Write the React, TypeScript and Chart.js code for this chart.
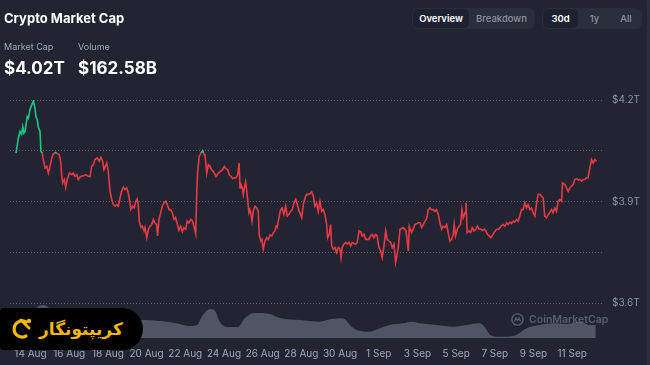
import React, { useEffect, useRef } from "react";
import { Chart, registerables } from "chart.js";

Chart.register(...registerables);

// ---- Data (days since 14 Aug 00:00, values in trillions USD) ----
const priceDays = [
  -0.75, -0.63, -0.54, -0.46, -0.4, -0.34, -0.28, -0.17, -0.11, -0.03,
  0.06, 0.15, 0.23, 0.28, 0.35, 0.4, 0.49, 0.54, 0.61, 0.66,
  0.75, 0.84, 0.92, 0.97, 1.1, 1.18, 1.3, 1.41, 1.49, 1.56,
  1.61, 1.66, 1.75, 1.82, 1.9, 2.01, 2.13, 2.21, 2.3, 2.39,
  2.47, 2.59, 2.73, 2.87, 2.99, 3.08, 3.16, 3.25, 3.33, 3.45,
  3.56, 3.64, 3.73, 3.8, 3.94, 4.02, 4.11, 4.2, 4.28, 4.37,
  4.46, 4.54, 4.63, 4.71, 4.8, 4.88, 4.97, 5.05, 5.14, 5.19,
  5.28, 5.36, 5.45, 5.52, 5.57, 5.62, 5.71, 5.78, 5.87, 5.92,
  6.01, 6.09, 6.18, 6.26, 6.35, 6.43, 6.52, 6.57, 6.64, 6.73,
  6.81, 6.9, 6.99, 7.07, 7.16, 7.25, 7.33, 7.42, 7.5, 7.59,
  7.67, 7.76, 7.85, 7.93, 8.02, 8.1, 8.19, 8.28, 8.36, 8.45,
  8.54, 8.59, 8.64, 8.72, 8.81, 8.9, 8.98,
  9.02, 9.11, 9.19, 9.28, 9.36, 9.45, 9.59, 9.71, 9.83, 9.93,
  10.02, 10.1, 10.19, 10.27, 10.36, 10.45, 10.53, 10.62, 10.71, 10.78,
  10.83, 10.88, 10.95, 11.0, 11.05, 11.12, 11.17, 11.23, 11.29, 11.34,
  11.4, 11.45, 11.51, 11.6, 11.69, 11.77, 11.82, 11.9, 11.96, 12.03,
  12.12, 12.21, 12.29, 12.38, 12.47, 12.55, 12.64, 12.69, 12.75, 12.84,
  12.93, 13.01, 13.1, 13.19, 13.27, 13.36, 13.45, 13.53, 13.62, 13.71,
  13.79, 13.88, 13.93, 14.02, 14.1, 14.19, 14.27, 14.36, 14.44, 14.53,
  14.62, 14.7, 14.79, 14.87, 14.96, 15.05, 15.13, 15.22, 15.31, 15.36,
  15.44, 15.51, 15.57, 15.65, 15.74, 15.82, 15.91, 16.0, 16.05, 16.11,
  16.2, 16.29, 16.37, 16.46, 16.55, 16.63, 16.72, 16.81, 16.89, 16.98,
  17.07, 17.15, 17.24, 17.32, 17.41, 17.49, 17.58, 17.66, 17.75, 17.84,
  17.92, 18.01, 18.1, 18.18, 18.27, 18.36, 18.44, 18.53, 18.62, 18.7,
  18.79, 18.87, 19.01, 19.1, 19.27, 19.41, 19.53, 19.58, 19.7, 19.78,
  19.87, 20.04, 20.13, 20.22, 20.3, 20.39, 20.48, 20.56, 20.65, 20.73,
  20.82, 20.9, 20.99, 21.08, 21.16, 21.25, 21.33, 21.42, 21.51, 21.59,
  21.68, 21.77, 21.85, 21.9, 21.97, 22.06, 22.15, 22.23, 22.3, 22.37,
  22.46, 22.51, 22.57, 22.66, 22.75, 22.83, 22.92, 23.02, 23.1, 23.19,
  23.28, 23.36, 23.45, 23.54, 23.62, 23.71, 23.79, 23.88, 23.96, 24.09,
  24.21, 24.31, 24.43, 24.52, 24.61, 24.69, 24.78, 24.86, 24.95, 25.03,
  25.12, 25.2, 25.29, 25.38, 25.46, 25.55, 25.64, 25.72, 25.81, 25.9,
  25.98, 26.07, 26.16, 26.24, 26.33, 26.41, 26.5, 26.58, 26.67, 26.76,
  26.84, 26.93, 27.01, 27.1, 27.19, 27.27, 27.36, 27.45, 27.5, 27.62,
  27.71, 27.79, 27.88, 27.96, 28.05, 28.13, 28.22, 28.31, 28.39, 28.48,
  28.56, 28.65, 28.74, 28.82, 28.91, 29.0, 29.08, 29.17, 29.26,
];

const priceValues = [
  4.043, 4.087, 4.107, 4.099, 4.121, 4.102, 4.107, 4.151, 4.146, 4.171,
  4.185, 4.197, 4.176, 4.151, 4.141, 4.121, 4.107, 4.048, 4.043, 4.024,
  3.999, 4.004, 3.984, 3.994, 4.029, 4.04, 4.045, 4.04, 4.038, 4.019,
  3.979, 3.955, 3.965, 3.942, 3.965, 3.984, 3.979, 3.984, 3.974, 3.979,
  3.965, 3.974, 3.976, 3.979, 3.974, 3.974, 4.004, 4.009, 4.024, 4.029,
  4.019, 4.03, 4.019, 3.994, 4.014, 3.989, 3.93, 3.906, 3.891, 3.886,
  3.891, 3.886, 3.911, 3.93, 3.942, 3.935, 3.94, 3.926, 3.896, 3.876,
  3.886, 3.881, 3.901, 3.908, 3.891, 3.842, 3.823, 3.827, 3.813, 3.823,
  3.793, 3.818, 3.827, 3.832, 3.847, 3.837, 3.832, 3.798, 3.847, 3.867,
  3.886, 3.896, 3.901, 3.891, 3.876, 3.876, 3.867, 3.847, 3.852, 3.832,
  3.815, 3.827, 3.811, 3.823, 3.818, 3.842, 3.837, 3.847, 3.844, 3.827,
  3.805, 3.921, 3.989, 4.033, 4.043, 4.05, 4.038,
  4.038, 3.984, 4.009, 4.004, 3.994, 3.989, 3.974, 3.984, 3.989, 3.994,
  4.004, 3.997, 3.994, 3.979, 3.974, 3.968, 3.97, 3.97, 3.979, 4.014,
  3.94, 3.95, 3.94, 3.921, 3.94, 3.958, 3.935, 3.901, 3.867, 3.876,
  3.862, 3.842, 3.871, 3.886, 3.881, 3.871, 3.803, 3.783, 3.788, 3.759,
  3.783, 3.793, 3.788, 3.801, 3.798, 3.808, 3.813, 3.827, 3.823, 3.852,
  3.876, 3.881, 3.862, 3.886, 3.857, 3.862, 3.871, 3.876, 3.896, 3.906,
  3.891, 3.871, 3.867, 3.852, 3.891, 3.911, 3.921, 3.921, 3.923, 3.929,
  3.916, 3.886, 3.896, 3.871, 3.901, 3.871, 3.876, 3.862, 3.832, 3.793,
  3.803, 3.832, 3.769, 3.759, 3.764, 3.749, 3.764, 3.759, 3.734, 3.764,
  3.774, 3.779, 3.774, 3.779, 3.769, 3.779, 3.776, 3.774, 3.779, 3.813,
  3.811, 3.798, 3.803, 3.788, 3.788, 3.788, 3.798, 3.803, 3.793, 3.803,
  3.798, 3.764, 3.754, 3.734, 3.769, 3.813, 3.788, 3.783, 3.779, 3.764,
  3.774, 3.72, 3.764, 3.818, 3.823, 3.813, 3.754, 3.827, 3.808, 3.818,
  3.832, 3.837, 3.837, 3.823, 3.832, 3.842, 3.849, 3.876, 3.881, 3.876,
  3.876, 3.871, 3.876, 3.862, 3.837, 3.818, 3.827, 3.823, 3.832, 3.808,
  3.783, 3.788, 3.803, 3.832, 3.798, 3.818, 3.827, 3.832, 3.876, 3.852,
  3.867, 3.896, 3.808, 3.813, 3.808, 3.823, 3.813, 3.818, 3.827, 3.818,
  3.818, 3.815, 3.818, 3.813, 3.803, 3.798, 3.793, 3.8, 3.808, 3.818,
  3.818, 3.827, 3.832, 3.827, 3.837, 3.832, 3.839, 3.835, 3.842, 3.839,
  3.847, 3.842, 3.857, 3.876, 3.876, 3.896, 3.881, 3.891, 3.876, 3.881,
  3.867, 3.857, 3.896, 3.921, 3.921, 3.916, 3.911, 3.857, 3.852, 3.862,
  3.867, 3.876, 3.867, 3.881, 3.871, 3.901, 3.906, 3.901, 3.955, 3.95,
  3.94, 3.93, 3.94, 3.945, 3.95, 3.965, 3.967, 3.963, 3.965, 3.96,
  3.965, 3.965, 3.97, 3.97, 3.999, 4.024, 4.014, 4.024, 4.019,
];

// Volume (billions USD)
const volumeDays = [
  -0.75, -0.03, 0.65, 1.27, 2.04, 3.59, 5.14, 5.81, 6.69, 7.47,
  8.24, 8.6, 8.91, 9.28, 9.54, 9.79, 10.2, 10.72, 11.08, 11.6,
  12.38, 12.89, 13.93, 14.96, 15.31, 15.99, 16.25, 16.6,
  16.86, 17.55, 18.06, 18.58, 19.25, 19.77, 20.13, 20.99, 21.85, 22.54,
  23.23, 23.58, 23.75, 24.26, 24.95, 25.3, 25.64, 26.33, 27.02, 27.71,
  28.4, 28.92, 29.22,
];
const volumeValues = [
  252, 328, 416, 328, 252, 227, 227, 227, 214, 189,
  151, 164, 290, 366, 340, 202, 139, 139, 252, 315,
  303, 252, 227, 205, 227, 248, 236, 142,
  101, 79, 122, 164, 185, 205, 185, 164, 142, 164,
  185, 101, 38, 16, 25, 67, 122, 164, 185, 176,
  205, 164, 164,
];

const xTickDays = [0, 2, 4, 6, 8, 10, 12, 14, 16, 18, 20, 22, 24, 26, 28];
const xTickLabels = [
  "14 Aug", "16 Aug", "18 Aug", "20 Aug", "22 Aug", "24 Aug", "26 Aug", "28 Aug",
  "30 Aug", "1 Sep", "3 Sep", "5 Sep", "7 Sep", "9 Sep", "11 Sep",
];
const yTickValues = [3.6, 3.75, 3.9, 4.05, 4.2];
const yTickLabels = ["$3.6T", "", "$3.9T", "", "$4.2T"];

const GREEN = "#16c784";
const RED = "#ea3943";
const BG = "#222531";

export default function App() {
  const canvasRef = useRef<HTMLCanvasElement | null>(null);

  useEffect(() => {
    document.body.style.margin = "0";
    document.body.style.background = BG;
    const canvas = canvasRef.current;
    if (!canvas) return;
    const baseline = priceValues[0];
    const chart = new Chart(canvas, {
      type: "line",
      data: {
        datasets: [
          {
            label: "Market Cap",
            data: priceDays.map((d, i) => ({ x: d, y: priceValues[i] })),
            yAxisID: "y",
            borderWidth: 1.6,
            pointRadius: 0,
            tension: 0,
            fill: false,
            order: 0,
            borderColor: (ctx: any) => {
              const c = ctx.chart;
              const area = c.chartArea;
              if (!area) return RED;
              const yPix = c.scales.y.getPixelForValue(baseline);
              const g = c.ctx.createLinearGradient(0, area.top, 0, area.bottom);
              const s = Math.min(1, Math.max(0, (yPix - area.top) / (area.bottom - area.top)));
              g.addColorStop(0, GREEN);
              g.addColorStop(s, GREEN);
              g.addColorStop(s, RED);
              g.addColorStop(1, RED);
              return g;
            },
          },
          {
            label: "Volume",
            data: volumeDays.map((d, i) => ({ x: d, y: volumeValues[i] })),
            yAxisID: "y2",
            borderWidth: 0,
            borderColor: "rgba(0,0,0,0)",
            backgroundColor: "#505465",
            fill: "origin",
            pointRadius: 0,
            cubicInterpolationMode: "monotone",
            order: 1,
          },
        ],
      },
      options: {
        animation: false,
        responsive: false,
        events: [],
        layout: { padding: { top: 100, left: 10, right: 0, bottom: 0 } },
        plugins: { legend: { display: false }, tooltip: { enabled: false } },
        scales: {
          x: {
            type: "linear",
            min: -1.06,
            max: 29.54,
            afterBuildTicks: (s: any) => {
              s.ticks = xTickDays.map((v) => ({ value: v }));
            },
            afterFit: (s: any) => {
              s.height = 27;
            },
            ticks: {
              autoSkip: false,
              maxRotation: 0,
              padding: 10,
              color: "#a1a7bb",
              font: { size: 10, family: "Inter" },
              callback: (_v: any, i: number) => xTickLabels[i],
            },
            grid: { display: false, drawTicks: false },
            border: { display: false },
          },
          y: {
            type: "linear",
            position: "right",
            min: 3.4966,
            max: 4.2,
            afterBuildTicks: (s: any) => {
              s.ticks = yTickValues.map((v) => ({ value: v }));
            },
            afterFit: (s: any) => {
              s.width = 48;
            },
            ticks: {
              padding: 10,
              color: "#8f94a3",
              font: { size: 10, family: "Inter" },
              callback: (_v: any, i: number) => yTickLabels[i],
            },
            grid: { color: "#5d6170", drawTicks: false, lineWidth: 1 },
            border: { display: false, dash: [1, 2] },
          },
          y2: { type: "linear", display: false, min: 0, max: 3000 },
        },
      },
    } as any);
    return () => chart.destroy();
  }, []);

  const btn = (active: boolean): React.CSSProperties => ({
    display: "flex",
    alignItems: "center",
    justifyContent: "center",
    height: 19,
    borderRadius: 5,
    fontSize: 9.5,
    fontWeight: active ? 600 : 500,
    color: active ? "#ffffff" : "#8c91a3",
    background: active ? "#1e2130" : "transparent",
  });

  return (
    <div
      style={{
        position: "fixed",
        left: 0,
        top: 0,
        width: 650,
        height: 365,
        background: BG,
        overflow: "hidden",
        fontFamily: "Inter, 'Noto Sans', sans-serif",
      }}
    >
      <canvas
        ref={canvasRef}
        width={650}
        height={365}
        style={{ position: "absolute", left: 0, top: 0, width: 650, height: 365 }}
      />
      {/* right edge */}
      <div style={{ position: "absolute", left: 647, top: 0, width: 3, height: 365, background: "#2c2f3b" }} />
      {/* header */}
      <div style={{ position: "absolute", left: 4, top: 10, color: "#fff", fontSize: 13, fontWeight: 700 }}>
        Crypto Market Cap
      </div>
      <div style={{ position: "absolute", left: 4, top: 41, color: "#a1a7bb", fontSize: 9 }}>Market Cap</div>
      <div style={{ position: "absolute", left: 4, top: 58, color: "#fff", fontSize: 17, fontWeight: 700 }}>$4.02T</div>
      <div style={{ position: "absolute", left: 78, top: 41, color: "#a1a7bb", fontSize: 9 }}>Volume</div>
      <div style={{ position: "absolute", left: 78, top: 58, color: "#fff", fontSize: 17, fontWeight: 700 }}>$162.58B</div>
      {/* buttons */}
      <div
        style={{
          position: "absolute",
          left: 412,
          top: 8,
          width: 123,
          height: 21,
          borderRadius: 6,
          background: "#2a2d3a",
          display: "flex",
          alignItems: "center",
          padding: "0 1px",
          boxSizing: "border-box",
        }}
      >
        <div style={{ ...btn(true), width: 56 }}>Overview</div>
        <div style={{ ...btn(false), width: 65 }}>Breakdown</div>
      </div>
      <div
        style={{
          position: "absolute",
          left: 542,
          top: 8,
          width: 100,
          height: 21,
          borderRadius: 6,
          background: "#2a2d3a",
          display: "flex",
          alignItems: "center",
          padding: "0 1px",
          boxSizing: "border-box",
        }}
      >
        <div style={{ ...btn(true), width: 35 }}>30d</div>
        <div style={{ ...btn(false), width: 33 }}>1y</div>
        <div style={{ ...btn(false), width: 30 }}>All</div>
      </div>
      {/* CoinMarketCap watermark */}
      <div
        style={{
          position: "absolute",
          left: 511,
          top: 313,
          display: "flex",
          alignItems: "center",
          gap: 5,
          color: "rgba(125,130,146,0.6)",
          fontSize: 10.5,
          fontWeight: 600,
        }}
      >
        <svg width="13" height="13" viewBox="0 0 13 13">
          <circle cx="6.5" cy="6.5" r="5.6" fill="none" stroke="rgba(125,130,146,0.6)" strokeWidth="1.4" />
          <path d="M3.5 8.5 L5 5 L6.5 7.5 L8 5 L9.5 8.5" fill="none" stroke="rgba(125,130,146,0.6)" strokeWidth="1.3" />
        </svg>
        <span>CoinMarketCap</span>
      </div>
      {/* logo badge */}
      <div
        style={{
          position: "absolute",
          left: 0,
          top: 308,
          width: 143,
          height: 42,
          background: "#000",
          borderRadius: "4px 21px 21px 4px",
          display: "flex",
          alignItems: "center",
        }}
      >
        <svg width="24" height="26" viewBox="0 0 24 26" style={{ marginLeft: 9 }}>
          <path d="M17 6 A8 8 0 1 0 17 20" fill="none" stroke="#f5b70a" strokeWidth="3.2" strokeLinecap="round" />
          <path d="M12 4 L20 12" stroke="#f5b70a" strokeWidth="3" strokeLinecap="round" />
          <circle cx="20" cy="5" r="2.2" fill="#f5b70a" />
        </svg>
        <div
          dir="rtl"
          style={{
            marginLeft: 6,
            color: "#f5b70a",
            fontFamily: "'DejaVu Sans', sans-serif",
            fontWeight: 700,
            fontSize: 17,
            whiteSpace: "nowrap",
          }}
        >
          کریپتونگار
        </div>
      </div>
    </div>
  );
}
